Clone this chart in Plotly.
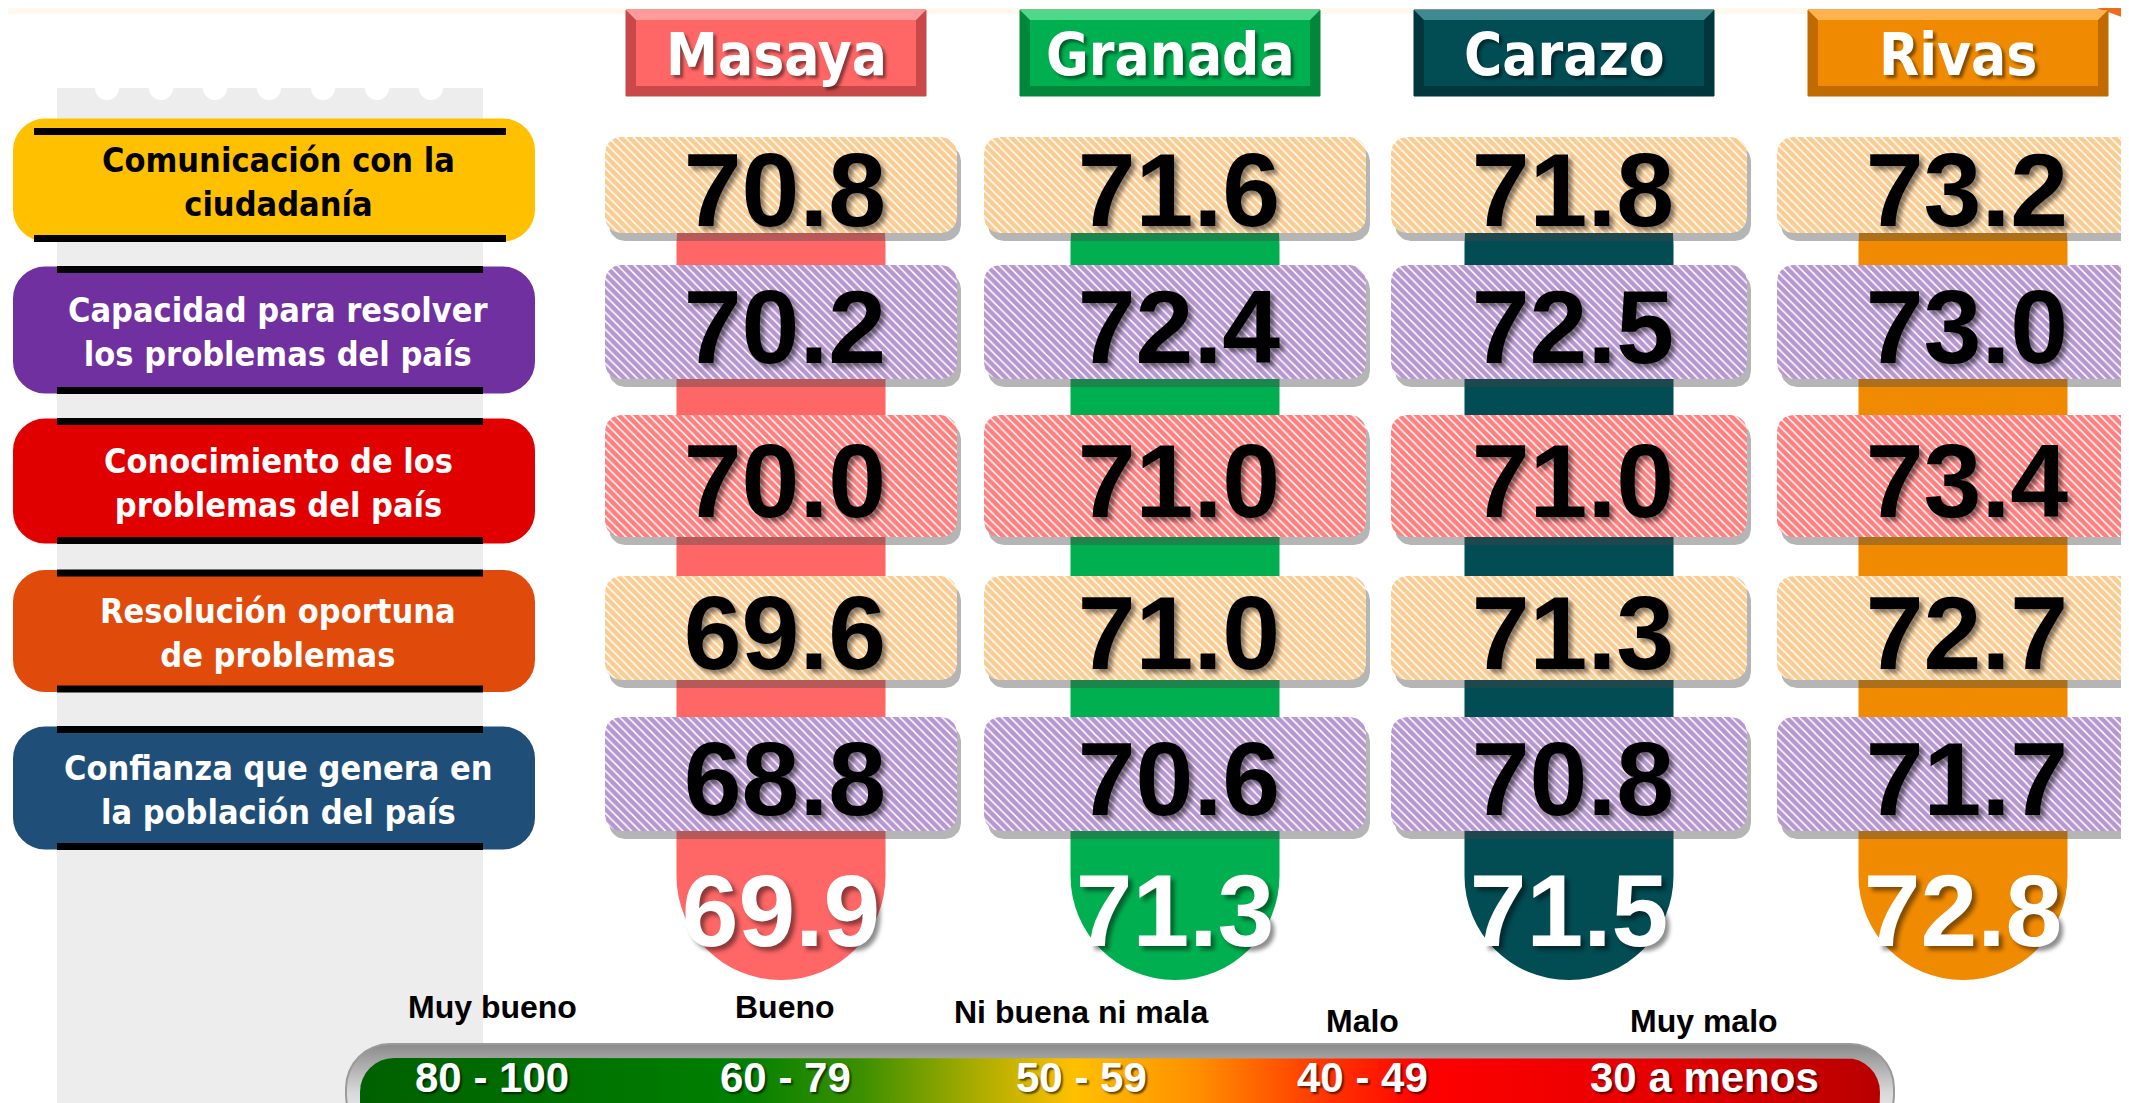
import plotly.graph_objects as go

# --- datos ---
departamentos = ["Masaya", "Granada", "Carazo", "Rivas"]
atributos = [
    "Comunicación con la<br>ciudadanía",
    "Capacidad para resolver<br>los problemas del país",
    "Conocimiento de los<br>problemas del país",
    "Resolución oportuna<br>de problemas",
    "Confianza que genera en<br>la población del país",
]
masaya = [70.8, 70.2, 70.0, 69.6, 68.8]
granada = [71.6, 72.4, 71.0, 71.0, 70.6]
carazo = [71.8, 72.5, 71.0, 71.3, 70.8]
rivas = [73.2, 73.0, 73.4, 72.7, 71.7]
promedio = [69.9, 71.3, 71.5, 72.8]
escala_nombres = ["Muy bueno", "Bueno", "Ni buena ni mala", "Malo", "Muy malo"]
escala_rangos = ["80 - 100", "60 - 79", "50 - 59", "40 - 49", "30 a menos"]

valores = [masaya, granada, carazo, rivas]

# --- posiciones y estilos (pixeles de la pagina) ---
W, H = 2129, 1103
OFF = 8  # margen del body en la pagina
col_x = [781, 1175, 1569, 1963]
celda_w = [352, 382, 356, 372]
fila_y = [185, 322, 476, 628, 774]
fila_h = [96, 114, 122, 104, 114]
etiq_y = [180, 330, 481, 631, 788]
etiq_h = [123, 127, 125, 122, 123]

col_colores = ["#FF6666", "#00B050", "#024C54", "#F08A00"]
col_bordes = ["#C94848", "#00873B", "#01363C", "#C06A00"]
col_claros = ["#FF9A9A", "#4FD88A", "#3E8A90", "#FFB24D"]
etiq_colores = ["#FFC000", "#7030A0", "#E00000", "#E04A0A", "#1F4E79"]
etiq_texto = ["black", "white", "white", "white", "white"]
trama_colores = ["#F59A25", "#7030A0", "#FF0000", "#F59A25", "#7030A0"]

escala_x = [492, 785, 1081, 1362, 1704]
escala_nom_y = [1007, 1007, 1012, 1021, 1021]

num_font = "Liberation Sans, Arial, sans-serif"
lab_font = "DejaVu Sans Condensed, DejaVu Sans, sans-serif"


def caja(cx, cy, w, h, r, n=8):
    import math
    x0, x1, y0, y1 = cx - w / 2, cx + w / 2, cy - h / 2, cy + h / 2
    xs, ys = [], []
    for (ccx, ccy, a0) in [(x0 + r, y0 + r, 180), (x1 - r, y0 + r, 270),
                           (x1 - r, y1 - r, 0), (x0 + r, y1 - r, 90)]:
        for k in range(n + 1):
            a = math.radians(a0 + 90 * k / n)
            xs.append(ccx + r * math.cos(a))
            ys.append(ccy + r * math.sin(a))
    xs.append(xs[0])
    ys.append(ys[0])
    return xs, ys


def ruta(xs, ys):
    return "M " + " L ".join(f"{a:.1f},{b:.1f}" for a, b in zip(xs, ys)) + " Z"


fig = go.Figure()
shapes = []
annotations = []

# fondo superior y esquina
shapes.append(dict(type="rect", x0=0, x1=W + OFF, y0=0, y1=14, line_width=0,
                   fillcolor="rgba(255,214,160,0.18)", layer="below"))
shapes.append(dict(type="path", path="M 2070,0 L 2140,0 L 2140,24 Q 2100,8 2070,0 Z",
                   fillcolor="#F26A1B", line_width=0, layer="below"))

# columna gris izquierda con muescas
shapes.append(dict(type="rect", x0=57, x1=483, y0=88, y1=H + 20, fillcolor="#EDEDED",
                   line_width=0, layer="below"))
for k in range(7):
    cxm = 107 + 54 * k
    shapes.append(dict(type="circle", x0=cxm - 12, x1=cxm + 12, y0=76, y1=100,
                       fillcolor="white", line_width=0, layer="below"))

# etiquetas de atributos
for j, txt in enumerate(atributos):
    xs, ys = caja(274, etiq_y[j], 522, etiq_h[j], 32)
    shapes.append(dict(type="path", path=ruta(xs, ys), fillcolor=etiq_colores[j],
                       line_width=0, layer="below"))
    top = etiq_y[j] - etiq_h[j] / 2
    bot = etiq_y[j] + etiq_h[j] / 2
    if j == 0:
        lx0, lx1, ly = 34, 506, [top + 13, bot - 3]
    else:
        lx0, lx1, ly = 57, 483, [top + 3, bot - 3]
    for yy in ly:
        shapes.append(dict(type="line", x0=lx0, x1=lx1, y0=yy, y1=yy,
                           line=dict(color="black", width=7), layer="below"))
    annotations.append(dict(x=278, y=etiq_y[j] + 2, text=txt, showarrow=False,
                            font=dict(family=lab_font, size=34, color=etiq_texto[j], weight=700),
                            align="center"))

# encabezados de departamentos
for i, dep in enumerate(departamentos):
    cx = col_x[i] - 5
    shapes.append(dict(type="rect", x0=cx - 150, x1=cx + 150, y0=10, y1=96,
                       fillcolor=col_bordes[i], line=dict(color=col_bordes[i], width=1), layer="below"))
    shapes.append(dict(type="path",
                       path=f"M {cx-150},10 L {cx+150},10 L {cx+140},20 L {cx-140},20 Z",
                       fillcolor=col_claros[i], line_width=0, layer="below"))
    shapes.append(dict(type="rect", x0=cx - 140, x1=cx + 140, y0=20, y1=86,
                       fillcolor=col_colores[i], line_width=0, layer="below"))
    annotations.append(dict(x=cx, y=55, text=dep, showarrow=False,
                            font=dict(family=lab_font, size=58, color="white", weight=700,
                                      shadow="3px 3px 3px rgba(0,0,0,0.45)")))

# tallos de color con base redondeada
fig.add_trace(go.Bar(x=col_x, y=[840] * 4, base=[140] * 4, width=209,
                     marker=dict(color=col_colores, cornerradius="50%", line_width=0),
                     hoverinfo="skip", showlegend=False))

# sombras de celdas
sx, sy = [], []
for j in range(5):
    for i in range(4):
        xs, ys = caja(col_x[i] + 4, fila_y[j] + 8, celda_w[i], fila_h[j], 16)
        sx += xs + [None]
        sy += ys + [None]
fig.add_trace(go.Scatter(x=sx, y=sy, mode="lines", fill="toself",
                         fillcolor="rgba(70,70,70,0.4)", line_width=0,
                         hoverinfo="skip", showlegend=False))

# celdas con trama
for j in range(5):
    cx_, cy_ = [], []
    for i in range(4):
        xs, ys = caja(col_x[i], fila_y[j], celda_w[i], fila_h[j], 16)
        cx_ += xs + [None]
        cy_ += ys + [None]
    fig.add_trace(go.Scatter(x=cx_, y=cy_, mode="lines", fill="toself",
                             fillcolor="white", line=dict(width=0),
                             fillpattern=dict(shape="\\", fgcolor=trama_colores[j], bgcolor="white",
                                              size=6, solidity=0.75),
                             hoverinfo="skip", showlegend=False))

# valores de celdas
tx, ty, tt = [], [], []
for i, serie in enumerate(valores):
    for j, v in enumerate(serie):
        tx.append(col_x[i] + 4)
        ty.append(fila_y[j] + 15)
        tt.append(f"{v:.1f}")
fig.add_trace(go.Scatter(x=tx, y=ty, text=tt, mode="text", textposition="middle center",
                         textfont=dict(family=num_font, size=104, color="black", weight=700,
                                       shadow="4px 4px 4px rgba(0,0,0,0.45)"),
                         hoverinfo="skip", showlegend=False))

# promedios
fig.add_trace(go.Scatter(x=col_x, y=[920] * 4, text=[f"{v:.1f}" for v in promedio],
                         mode="text", textposition="middle center",
                         textfont=dict(family=num_font, size=102, color="white", weight=700,
                                       shadow="4px 4px 4px rgba(0,0,0,0.45)"),
                         hoverinfo="skip", showlegend=False))

# barra de escala
xs, ys = caja(1120, 1092, 1548, 96, 44)
fig.add_trace(go.Scatter(x=xs, y=ys, mode="lines", fill="toself", line=dict(color="#9A9A9A", width=2),
                         fillgradient=dict(type="vertical",
                                           colorscale=[[0, "#FFFFFF"], [0.5, "#D8D8D8"], [1, "#8A8A8A"]]),
                         hoverinfo="skip", showlegend=False))
xs, ys = caja(1120, 1100, 1520, 84, 34)
fig.add_trace(go.Scatter(x=xs, y=ys, mode="lines", fill="toself", line_width=0,
                         fillgradient=dict(type="horizontal",
                                           colorscale=[[0, "#006000"], [0.25, "#008000"], [0.33, "#3C9000"],
                                                       [0.41, "#B0AE00"], [0.47, "#FFC000"], [0.55, "#FF9000"],
                                                       [0.63, "#FF3A00"], [0.7, "#FF0000"], [0.86, "#E40000"],
                                                       [1, "#B80000"]]),
                         hoverinfo="skip", showlegend=False))

for k in range(5):
    annotations.append(dict(x=escala_x[k], y=escala_nom_y[k], text=escala_nombres[k], showarrow=False,
                            font=dict(family=num_font, size=32, color="black", weight=700)))
    annotations.append(dict(x=escala_x[k], y=1077, text=escala_rangos[k], showarrow=False,
                            font=dict(family=num_font, size=42, color="white", weight=700,
                                      shadow="2px 2px 2px rgba(0,0,0,0.6)")))

fig.update_layout(
    width=W, height=H,
    margin=dict(l=0, r=0, t=0, b=0),
    paper_bgcolor="white", plot_bgcolor="white",
    xaxis=dict(range=[OFF, W + OFF], visible=False, fixedrange=True),
    yaxis=dict(range=[H + OFF, OFF], visible=False, fixedrange=True),
    shapes=shapes, annotations=annotations,
    barmode="overlay", showlegend=False,
)
fig.write_html("out.html")
